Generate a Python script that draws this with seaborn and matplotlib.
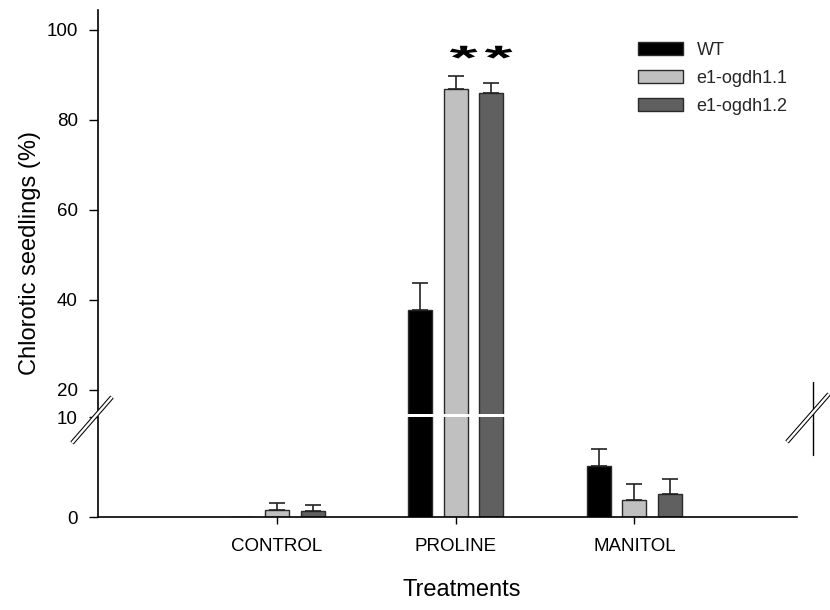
import numpy as np
import pandas as pd
import matplotlib
matplotlib.use("Agg")
import matplotlib.pyplot as plt
import seaborn as sns
from matplotlib.lines import Line2D
from matplotlib.patches import Patch
from matplotlib.path import Path
from matplotlib.textpath import TextPath
from matplotlib.font_manager import FontProperties

# ---- data -------------------------------------------------------------
treatments = ["CONTROL", "PROLINE", "MANITOL"]
genotypes = ["WT", "e1-ogdh1.1", "e1-ogdh1.2"]
wt_mean = [0.0, 37.8, 5.1]
wt_err = [0.0, 6.0, 1.7]
ogdh11_mean = [0.7, 86.9, 1.7]
ogdh11_err = [0.7, 2.9, 1.6]
ogdh12_mean = [0.6, 86.0, 2.3]
ogdh12_err = [0.6, 2.2, 1.5]
significant = [("PROLINE", "e1-ogdh1.1"), ("PROLINE", "e1-ogdh1.2")]
lower_ticks = [0, 10]
upper_ticks = [20, 40, 60, 80, 100]
palette = ["#000000", "#c0c0c0", "#606060"]

df = pd.DataFrame({
    "Treatment": treatments * 3,
    "Genotype": np.repeat(genotypes, len(treatments)),
    "mean": wt_mean + ogdh11_mean + ogdh12_mean,
    "err": wt_err + ogdh11_err + ogdh12_err,
})

sns.set_style("white")
plt.rcParams["font.family"] = ["Liberation Sans", "DejaVu Sans"]

W, H = 830, 610
fig = plt.figure(figsize=(W / 100, H / 100), dpi=100)


def fx(px):
    return px / W


def fy(py):
    return 1 - py / H


TICK_FS = 13.5

# broken y axis: lower panel 0-10, upper panel from ~15 to ~104
ax_lo = fig.add_axes([fx(98), fy(517), fx(797) - fx(98), fy(417) - fy(517)])
ax_hi = fig.add_axes([fx(98), fy(414), fx(797) - fx(98), fy(10) - fy(414)])

for ax in (ax_lo, ax_hi):
    sns.barplot(data=df, x="Treatment", y="mean", hue="Genotype",
                order=treatments, hue_order=genotypes, palette=palette,
                width=0.6, gap=0.33, errorbar=None, saturation=1,
                edgecolor="#2a2a2a", linewidth=1.0, legend=False, ax=ax)
    for g, cont in zip(genotypes, ax.containers):
        sub = df[df["Genotype"] == g].set_index("Treatment").loc[treatments]
        for bar, (m, e) in zip(cont.patches, zip(sub["mean"], sub["err"])):
            if e <= 0:
                continue
            xc = bar.get_x() + bar.get_width() / 2
            ax.errorbar(xc, m, yerr=[[0], [e]], fmt="none", ecolor="#222222",
                        elinewidth=1.2, capsize=6, capthick=1.2, zorder=1)
    ax.set_xlim(-1.0, 2.91)
    ax.set_xlabel("")
    ax.set_ylabel("")
    for s in ("top", "right"):
        ax.spines[s].set_visible(False)
    ax.spines["left"].set_color("black")
    ax.spines["left"].set_linewidth(1.2)
    ax.tick_params(axis="y", direction="out", length=6.5, width=1.0,
                   pad=8, labelsize=TICK_FS, colors="black", left=True)

ax_lo.set_ylim(0, 10)
ax_lo.set_yticks(lower_ticks)
ax_lo.spines["bottom"].set_color("black")
ax_lo.spines["bottom"].set_linewidth(1.2)
ax_lo.tick_params(axis="x", direction="out", length=5, width=1.0, pad=10,
                  labelsize=TICK_FS, colors="black", bottom=True)

ax_hi.set_ylim(20 - 24 / 4.5, 100 + 20 / 4.5)
ax_hi.set_yticks(upper_ticks)
ax_hi.spines["bottom"].set_visible(False)
ax_hi.set_xticks([])

# significance stars above the mutant bars (wide, flat asterisk glyph)
tp = TextPath((0, 0), "*", prop=FontProperties(family="Liberation Sans",
                                               weight="bold"))
v = tp.vertices.copy()
v -= (v.min(axis=0) + v.max(axis=0)) / 2
v[:, 0] *= 2.1
star_marker = Path(v, tp.codes)
star_y = max(df["mean"] + df["err"]) + 4.3
for t, g in significant:
    cont = ax_hi.containers[genotypes.index(g)]
    bar = cont.patches[treatments.index(t)]
    xc = bar.get_x() + bar.get_width() / 2
    ax_hi.scatter([xc + 0.04], [star_y], marker=star_marker, s=400,
                  color="black", linewidths=0, zorder=5)

# legend
handles = [Patch(facecolor=c, edgecolor="#2a2a2a", linewidth=1.0) for c in palette]
ax_hi.legend(handles, genotypes, loc="upper left",
             bbox_to_anchor=(fx(638), fy(42)), bbox_transform=fig.transFigure,
             frameon=False, borderpad=0, borderaxespad=0, handlelength=2.5,
             handleheight=0.75, labelspacing=0.6, handletextpad=0.75,
             fontsize=13)


# axis-break marks
def break_mark(cx, cy, dx, dy):
    xs = [fx(cx - dx), fx(cx + dx)]
    ys = [fy(cy + dy), fy(cy - dy)]
    fig.add_artist(Line2D(xs, ys, transform=fig.transFigure, color="black",
                          lw=3.2, solid_capstyle="butt", zorder=10))
    fig.add_artist(Line2D(xs, ys, transform=fig.transFigure, color="white",
                          lw=1.7, solid_capstyle="butt", zorder=11))


break_mark(92, 420, 20, 23)
fig.add_artist(Line2D([fx(813), fx(813)], [fy(382), fy(455)],
                      transform=fig.transFigure, color="black", lw=1.0))
break_mark(808, 418, 21, 24)

# axis titles
fig.text(fx(30), fy(253), "Chlorotic seedlings (%)", rotation=90,
         ha="center", va="center", fontsize=17, color="black")
fig.text(fx(462), fy(590), "Treatments", ha="center", va="center",
         fontsize=17, color="black")

fig.savefig("out.png", dpi=100)
